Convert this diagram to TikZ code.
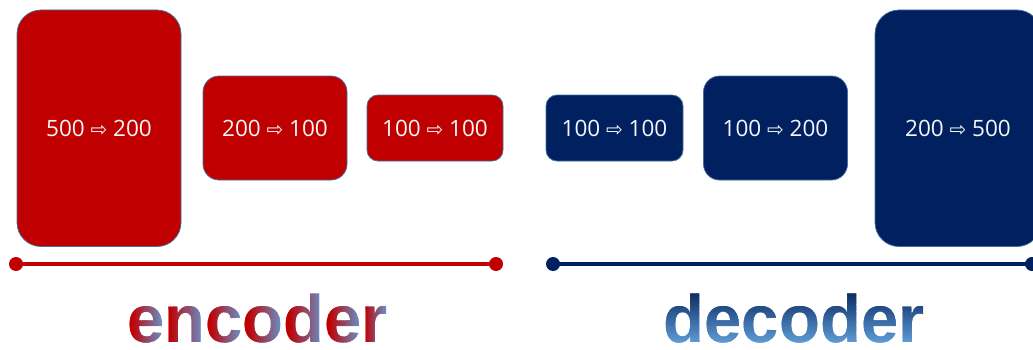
\documentclass[tikz,border=0pt]{standalone}
\usepackage{fontspec}
\setmainfont{Liberation Sans}
\newfontfamily\boxfont{Open Sans}
\newfontfamily\arrowfont{DejaVu Sans}
\newfontfamily\titlefont{Liberation Sans}
\definecolor{encred}{RGB}{192,0,0}
\definecolor{decnavy}{RGB}{0,32,96}
\definecolor{boxedge}{RGB}{65,113,156}
\definecolor{gradblue}{RGB}{96,152,212}
\definecolor{gradnavy}{RGB}{8,38,94}
\definecolor{gradlight}{RGB}{94,156,214}
\tikzset{
  blk/.style={draw=boxedge, line width=0.75pt, text=white!94!gray,
    font=\boxfont\fontsize{22.5}{26}\selectfont, inner sep=0pt},
  redblk/.style={blk, fill=encred},
  blueblk/.style={blk, fill=decnavy},
  titletext/.style={inner sep=0pt, anchor=base,
    font=\titlefont\bfseries\fontsize{67}{70}\selectfont},
}
\newcommand{\ar}{{\arrowfont\fontsize{20}{24}\selectfont ⇨}}
\begin{document}
\begin{tikzpicture}[x=1pt,y=1pt]
\clip (0,0) rectangle (1033,349);
\useasboundingbox (0,0) rectangle (1033,349);
% encoder boxes
\node[redblk, rounded corners=24pt, minimum width=164pt, minimum height=236.5pt] (e1) at (99,220.75) {500 \ar\ 200};
\node[redblk, rounded corners=16pt, minimum width=144pt, minimum height=104pt] (e2) at (275,221) {200 \ar\ 100};
\node[redblk, rounded corners=11pt, minimum width=136pt, minimum height=66pt] (e3) at (435,221) {100 \ar\ 100};
% decoder boxes
\node[blueblk, rounded corners=11pt, minimum width=137pt, minimum height=66pt] (d1) at (614.5,221) {100 \ar\ 100};
\node[blueblk, rounded corners=16pt, minimum width=144pt, minimum height=104pt] (d2) at (775.5,221) {100 \ar\ 200};
\node[blueblk, rounded corners=24pt, minimum width=166pt, minimum height=236.5pt] (d3) at (958,220.75) {200 \ar\ 500};
% axis lines
\coordinate (el) at (16,85);
\coordinate (er) at (496,85);
\coordinate (dl) at (553,85);
\coordinate (dr) at (1032,85);
\draw[encred, line width=4pt] (el) -- (er);
\fill[encred] (el) circle (7pt) (er) circle (7pt);
\draw[decnavy, line width=4pt] (dl) -- (dr);
\fill[decnavy] (dl) circle (7pt) (dr) circle (7pt);
% title "encoder": each letter shaded left red -> right blue
\foreach \s/\w [count=\L] in {0/37.25, 37.25/40.94, 78.19/37.25, 115.44/40.94, 156.38/40.94, 197.32/37.25, 234.57/26.06} {
  \foreach \k in {0,...,19} {
    \pgfmathsetmacro\tt{(\k+0.5)/20}
    \pgfmathsetmacro\pct{max(0,min(100,100*(\tt-0.15)/0.85))}
    \begin{scope}
      \clip (127.2+\s+\w*\k/20,0) rectangle ++(\w/20+0.4,70);
      \node[titletext, text=gradblue!\pct!encred] (enc-\L-\k) at (257.5,7) {encoder};
    \end{scope}
  }
}
% title "decoder": vertical shading navy -> light blue
\foreach \k in {0,...,29} {
  \pgfmathsetmacro\pct{100*(\k+0.5)/30}
  \begin{scope}
    \clip (600,57.5-\k*1.75-1.75) rectangle (1000,57.5-\k*1.75+0.3);
    \node[titletext, text=gradlight!\pct!gradnavy] (dec-\k) at (794,7) {decoder};
  \end{scope}
}
\begin{scope}
  \clip (600,0) rectangle (1000,5.2);
  \node[titletext, text=gradlight] (dec-b) at (794,7) {decoder};
\end{scope}
\end{tikzpicture}
\end{document}
